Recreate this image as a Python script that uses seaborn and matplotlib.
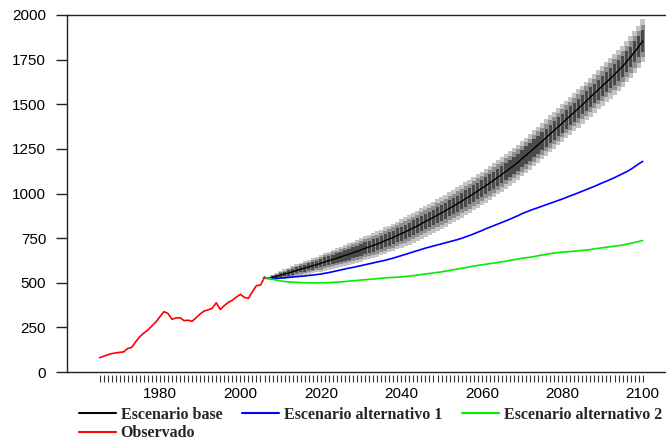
import numpy as np
import pandas as pd
import matplotlib
matplotlib.use('Agg')
import matplotlib.pyplot as plt
import matplotlib.transforms as mtransforms
import seaborn as sns

# Observed series (1965-2006)
obs_years = list(range(1965, 2007))
obs_values = [80, 88, 96, 103, 107, 110, 113, 132, 138, 170,
              198, 218, 235, 258, 280, 310, 338, 328, 295, 303,
              304, 288, 290, 284, 304, 325, 342, 348, 357, 388,
              350, 372, 390, 402, 420, 435, 418, 413, 450, 484,
              487, 530]

# Scenario series (2006-2100)
scen_years = list(range(2006, 2101))
base_values = [530, 525, 531, 537, 543, 549, 555, 562, 569, 576,
               582, 589, 595, 602, 609, 617, 624, 631, 638, 646,
               653, 660, 668, 676, 684, 693, 701, 709, 717, 726,
               736, 745, 754, 765, 775, 785, 796, 808, 818, 831,
               843, 855, 866, 879, 891, 904, 917, 930, 943, 957,
               971, 985, 999, 1014, 1029, 1044, 1059, 1075, 1091, 1107,
               1124, 1140, 1157, 1175, 1195, 1214, 1233, 1253, 1273, 1293,
               1313, 1334, 1354, 1374, 1394, 1415, 1435, 1456, 1476, 1497,
               1518, 1540, 1561, 1582, 1603, 1624, 1645, 1667, 1690, 1712,
               1738, 1765, 1793, 1822, 1855]
alt1_values = [530, 525, 523, 524, 526, 528, 530, 532, 534, 536,
               538, 541, 543, 546, 549, 553, 557, 562, 567, 572,
               577, 582, 586, 591, 596, 601, 606, 611, 616, 621,
               626, 632, 638, 645, 652, 659, 666, 673, 680, 687,
               694, 700, 706, 712, 718, 724, 730, 736, 742, 749,
               757, 765, 774, 783, 792, 802, 811, 820, 829, 838,
               847, 856, 866, 876, 887, 896, 905, 913, 921, 929,
               937, 945, 953, 961, 969, 978, 987, 995, 1004, 1013,
               1022, 1031, 1040, 1050, 1060, 1069, 1079, 1089, 1100, 1111,
               1122, 1135, 1150, 1166, 1180]
alt2_values = [530, 525, 519, 514, 510, 507, 505, 503, 502, 501,
               500, 500, 499, 499, 500, 500, 501, 502, 503, 505,
               507, 509, 511, 513, 515, 517, 519, 521, 523, 525,
               527, 529, 530, 531, 533, 535, 537, 540, 543, 546,
               549, 552, 555, 558, 561, 565, 569, 573, 577, 581,
               585, 589, 593, 597, 600, 604, 607, 610, 614, 617,
               621, 625, 629, 633, 637, 640, 643, 647, 651, 655,
               659, 663, 667, 669, 671, 673, 675, 677, 679, 681,
               683, 686, 690, 693, 696, 699, 702, 705, 708, 711,
               716, 721, 726, 731, 737]
# Half-width of the outer uncertainty band around the base scenario
band_halfwidth = [5, 8, 13, 18, 23, 26, 29, 32, 34, 36,
                  38, 40, 42, 44, 47, 49, 51, 53, 55, 57,
                  59, 61, 62, 64, 65, 67, 68, 70, 71, 72,
                  74, 75, 77, 78, 80, 81, 82, 83, 84, 85,
                  86, 87, 88, 88, 89, 90, 90, 91, 91, 92,
                  92, 93, 93, 94, 94, 95, 95, 96, 96, 96,
                  97, 97, 97, 98, 98, 99, 99, 100, 101, 101,
                  102, 103, 103, 104, 105, 105, 106, 107, 107, 108,
                  109, 109, 110, 111, 111, 112, 113, 113, 114, 115,
                  116, 117, 118, 119, 120]
band_levels = [1.0, 0.75, 0.5]

tick_years = list(range(1965, 2101))
label_years = [1980, 2000, 2020, 2040, 2060, 2080, 2100]
y_ticks = [0, 250, 500, 750, 1000, 1250, 1500, 1750, 2000]

sns.set_theme(style="ticks")
plt.rcParams['font.family'] = ['Liberation Sans', 'DejaVu Sans']

fig = plt.figure(figsize=(6.66, 4.46), dpi=100)
ax = fig.add_axes([67 / 666, 1 - 372 / 446, 1 - 67 / 666, (372 - 15) / 446])

scen = pd.DataFrame({'year': scen_years, 'base': base_values,
                     'alt1': alt1_values, 'alt2': alt2_values,
                     'hw': band_halfwidth})
obs = pd.DataFrame({'year': obs_years, 'value': obs_values})

# fan band, yearly boxes
band_colors = ['#c4c4c4', '#8f8f8f', '#4a4a4a']
band_widths = [1.1, 1.0, 0.8]
for lvl, col, wd in zip(band_levels, band_colors, band_widths):
    half = scen['hw'] * lvl
    ax.bar(scen['year'], 2 * half, bottom=scen['base'] - half, width=wd,
           color=col, linewidth=0, zorder=1)

sns.lineplot(data=scen, x='year', y='base', color='black', linewidth=1.0,
             label='Escenario base', ax=ax, zorder=3)
sns.lineplot(data=scen, x='year', y='alt1', color='#0000ff', linewidth=1.2,
             label='Escenario alternativo 1', ax=ax, zorder=3)
sns.lineplot(data=scen, x='year', y='alt2', color='#00ee00', linewidth=1.2,
             label='Escenario alternativo 2', ax=ax, zorder=3)
sns.lineplot(data=obs, x='year', y='value', color='#ff0000', linewidth=1.2,
             label='Observado', ax=ax, zorder=3)

ax.set_xlim(1956.9, 2105.8)
ax.set_ylim(0, 2000)
ax.set_xlabel('')
ax.set_ylabel('')

ax.set_yticks(y_ticks)
ax.set_yticklabels([str(v) for v in y_ticks], fontsize=11)
ax.tick_params(axis='y', direction='out', length=8, width=1, pad=7, colors='#222222',
               labelcolor='black')

ax.set_xticks(label_years)
ax.set_xticklabels([str(v) for v in label_years], fontsize=11)
ax.tick_params(axis='x', length=0, pad=11, labelcolor='black')

# yearly tick marks drawn just below the axis
trans = mtransforms.blended_transform_factory(ax.transData, ax.transAxes)
ax.vlines(tick_years, -0.008, -0.027, transform=trans, colors='#333333',
          linewidth=0.8, clip_on=False)

for side in ['left', 'bottom', 'top']:
    ax.spines[side].set_visible(True)
    ax.spines[side].set_color('#222222')
    ax.spines[side].set_linewidth(1.0)
ax.spines['right'].set_visible(False)

handles, labels = ax.get_legend_handles_labels()
ax.get_legend().remove()
order = [0, 3, 1, 2]
leg = fig.legend([handles[i] for i in order], [labels[i] for i in order],
                 loc='upper left', bbox_to_anchor=(79 / 666, 1 - 407 / 446),
                 ncol=3, frameon=False, borderaxespad=0, borderpad=0,
                 handlelength=2.3, handletextpad=0.3, columnspacing=1.25,
                 labelspacing=0.15,
                 prop={'family': 'Liberation Serif', 'weight': 'bold', 'size': 11.5})
for line in leg.get_lines():
    line.set_linewidth(1.5)

fig.savefig('out.png', dpi=100)
